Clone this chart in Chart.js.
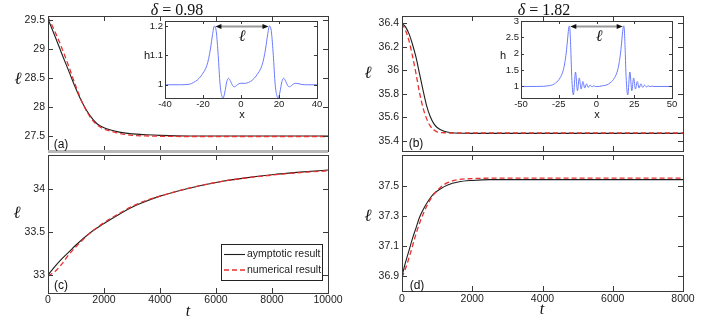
<!DOCTYPE html>
<html>
<head>
<meta charset="utf-8">
<script src="https://cdn.jsdelivr.net/npm/chart.js@4.4.1/dist/chart.umd.min.js"></script>
<style>
  html, body { margin: 0; padding: 0; background: #fff; }
  #fig { position: relative; width: 706px; height: 320px; overflow: hidden; }
  #fig canvas { position: absolute; left: 0; top: 0; }
  .lbl { position: absolute; transform: translate(-50%, -50%); line-height: 1; white-space: nowrap; color: #111; }
  .sans { font-family: "Liberation Sans", Arial, sans-serif; }
  .serif { font-family: "Liberation Serif", "Times New Roman", serif; }
  .ell { font-family: "DejaVu Serif", serif; font-style: italic; }
</style>
</head>
<body>
<div id="fig">
  <canvas id="chartA" width="706" height="320"></canvas>
  <canvas id="chartC" width="706" height="320"></canvas>
  <canvas id="chartB" width="706" height="320"></canvas>
  <canvas id="chartD" width="706" height="320"></canvas>
  <canvas id="insetA" width="706" height="320"></canvas>
  <canvas id="insetB" width="706" height="320"></canvas>

  <div class="lbl serif" style="left:177px; top:10px; font-size:16px"><i>δ</i> = 0.98</div>
  <div class="lbl serif" style="left:544px; top:10px; font-size:16px"><i>δ</i> = 1.82</div>

  <div class="lbl ell" style="left:18px; top:78px; font-size:17px">ℓ</div>
  <div class="lbl ell" style="left:17px; top:212px; font-size:17px">ℓ</div>
  <div class="lbl ell" style="left:368px; top:72px; font-size:17px">ℓ</div>
  <div class="lbl ell" style="left:368px; top:215px; font-size:17px">ℓ</div>

  <div class="lbl serif" style="left:188px; top:311px; font-size:16px"><i>t</i></div>
  <div class="lbl serif" style="left:542px; top:309px; font-size:16px"><i>t</i></div>

  <div class="lbl sans" style="left:61px; top:144px; font-size:12px">(a)</div>
  <div class="lbl sans" style="left:416px; top:143px; font-size:12px">(b)</div>
  <div class="lbl sans" style="left:61px; top:285px; font-size:12px">(c)</div>
  <div class="lbl sans" style="left:417px; top:285px; font-size:12px">(d)</div>

  <div class="lbl sans" style="left:147px; top:55px; font-size:11px">h</div>
  <div class="lbl sans" style="left:503px; top:55px; font-size:11px">h</div>
  <div class="lbl sans" style="left:242px; top:114px; font-size:11px">x</div>
  <div class="lbl sans" style="left:597px; top:114px; font-size:11px">x</div>

  <div class="lbl ell" style="left:242px; top:36px; font-size:16px">ℓ</div>
  <div class="lbl ell" style="left:599px; top:36px; font-size:16px">ℓ</div>
</div>

<script>
// ===== Data: panel (a), delta = 0.98 =====
const tA = [0, 250, 500, 750, 1000, 1250, 1500, 1750, 2000, 2500, 3000, 3500, 4000, 5000, 6000, 8000, 10000];
const asymA = [29.52, 29.22, 28.91, 28.61, 28.31, 28.05, 27.85, 27.71, 27.64, 27.57, 27.535, 27.52, 27.51, 27.5, 27.5, 27.5, 27.5];
const numA = [29.55, 29.3, 29.01, 28.69, 28.35, 28.05, 27.83, 27.69, 27.62, 27.55, 27.51, 27.5, 27.495, 27.49, 27.49, 27.49, 27.49];

// ===== Data: panel (c), delta = 0.98 =====
const tC = [0, 250, 500, 750, 1000, 1500, 2000, 2500, 3000, 3500, 4000, 5000, 6000, 7000, 8000, 9000, 10000];
const asymC = [33.0, 33.1, 33.19, 33.27, 33.35, 33.49, 33.6, 33.7, 33.79, 33.86, 33.92, 34.01, 34.08, 34.13, 34.17, 34.2, 34.225];
const numC = [32.99, 33.04, 33.13, 33.24, 33.33, 33.49, 33.61, 33.71, 33.8, 33.87, 33.92, 34.01, 34.08, 34.13, 34.165, 34.195, 34.215];

// ===== Data: panel (b), delta = 1.82 =====
const tB = [0, 100, 200, 300, 400, 500, 600, 700, 800, 900, 1000, 1200, 1400, 1700, 2000, 3000, 4000, 6000, 8000];
const asymB = [36.4, 36.37, 36.31, 36.22, 36.11, 35.97, 35.83, 35.7, 35.61, 35.55, 35.515, 35.483, 35.47, 35.466, 35.465, 35.465, 35.465, 35.465, 35.465];
const numB = [36.4, 36.34, 36.25, 36.12, 35.97, 35.81, 35.68, 35.59, 35.53, 35.495, 35.478, 35.47, 35.468, 35.468, 35.468, 35.468, 35.468, 35.468, 35.468];

// ===== Data: panel (d), delta = 1.82 =====
const tD = [0, 100, 200, 300, 400, 500, 600, 750, 900, 1100, 1300, 1600, 2000, 2500, 3000, 4000, 6000, 8000];
const asymD = [36.9, 36.99, 37.07, 37.15, 37.22, 37.29, 37.34, 37.4, 37.445, 37.48, 37.505, 37.525, 37.535, 37.54, 37.54, 37.54, 37.54, 37.54];
const numD = [36.89, 36.95, 37.02, 37.1, 37.18, 37.25, 37.31, 37.385, 37.44, 37.49, 37.52, 37.54, 37.547, 37.55, 37.55, 37.55, 37.55, 37.55];

// ===== Data: inset profiles h(x) =====
const xInsetA = [-40, -32, -27, -25, -23, -21, -20, -19, -18, -17, -16, -15, -14, -13, -12, -11, -10, -9.4, -8.5, -7.5, -6.6, -5.5, -4.5, -3.5, -2.5, -1, 0, 2, 4, 6, 8, 9, 10, 11, 12, 13, 14, 15, 16, 17, 18, 19, 19.6, 20.5, 21.5, 22.4, 23.5, 24.5, 25.5, 26.5, 28, 29, 30, 32, 35, 40];
const hInsetA = [1.0, 1.0, 1.002, 1.008, 1.016, 1.03, 1.04, 1.05, 1.065, 1.09, 1.125, 1.17, 1.2, 1.18, 1.1, 1.0, 0.96, 0.955, 0.975, 1.01, 1.022, 1.012, 0.998, 0.993, 0.997, 1.004, 1.005, 1.005, 1.008, 1.016, 1.03, 1.04, 1.05, 1.065, 1.09, 1.125, 1.17, 1.2, 1.18, 1.1, 1.0, 0.96, 0.955, 0.975, 1.01, 1.022, 1.012, 0.998, 0.993, 0.997, 1.004, 1.005, 1.004, 1.001, 1.0, 1.0];

const xInsetB = [-50, -40, -35, -32, -29, -27, -25.5, -24, -23, -22, -21, -20, -19.2, -18.5, -18, -17.6, -17, -16.4, -15.3, -13.9, -12.6, -11.4, -10.2, -9, -7.8, -6.6, -5.4, -4.2, -3, -1.8, -0.6, 2, 4, 7, 9, 10.5, 12, 13, 14, 15, 16, 16.8, 17.5, 18, 18.4, 19, 19.6, 20.7, 22.1, 23.4, 24.6, 25.8, 27, 28.2, 29.4, 30.6, 31.8, 33, 34.2, 35.4, 36.6, 38, 50];
const hInsetB = [1.0, 1.0, 1.005, 1.02, 1.05, 1.11, 1.17, 1.27, 1.36, 1.5, 1.72, 2.05, 2.42, 2.75, 2.85, 2.75, 2.1, 1.3, 0.74, 1.44, 0.87, 1.26, 0.92, 1.15, 0.95, 1.08, 0.97, 1.04, 0.985, 1.02, 0.995, 1.003, 1.02, 1.05, 1.11, 1.17, 1.27, 1.36, 1.5, 1.72, 2.05, 2.42, 2.75, 2.85, 2.75, 2.1, 1.3, 0.74, 1.44, 0.87, 1.26, 0.92, 1.15, 0.95, 1.08, 0.97, 1.04, 0.985, 1.02, 0.995, 1.008, 1.0, 1.0];

// ===== Ticks =====
const ticksT10k = [0, 2000, 4000, 6000, 8000, 10000];
const ticksT8k = [0, 2000, 4000, 6000, 8000];
const ticksA = [27.5, 28, 28.5, 29, 29.5];
const ticksC = [33, 33.5, 34];
const ticksB = [35.4, 35.6, 35.8, 36, 36.2, 36.4];
const ticksD = [36.9, 37.1, 37.3, 37.5];
const ticksInsetAX = [-40, -20, 0, 20, 40];
const ticksInsetAH = [1, 1.1, 1.2];
const ticksInsetBX = [-50, -25, 0, 25, 50];
const ticksInsetBH = [1, 1.5, 2, 2.5, 3];

// peak positions used for the double arrow in each inset
const peaksInsetA = [-14, 15];
const peaksInsetB = [-18, 18];

// ===== Styles =====
const W = 706, H = 320;
const BLACK = '#1e1e1e';
const RED = '#e8302f';
const BLUE = '#6a7bff';
const FRAME = '#3a3a3a';
const FONT = 'Liberation Sans';

function pts(xs, ys) {
  return xs.map((x, i) => ({ x, y: ys[i] }));
}

function asymSet(xs, ys) {
  return { label: 'aymptotic result', data: pts(xs, ys), borderColor: BLACK, borderWidth: 1.1,
    pointRadius: 0, fill: false, cubicInterpolationMode: 'monotone' };
}

function numSet(xs, ys) {
  return { label: 'numerical result', data: pts(xs, ys), borderColor: RED, borderWidth: 1.3,
    borderDash: [5, 3], pointRadius: 0, fill: false, cubicInterpolationMode: 'monotone' };
}

function profileSet(xs, ys) {
  return { label: 'h', data: pts(xs, ys), borderColor: BLUE, borderWidth: 1,
    pointRadius: 0, fill: false, cubicInterpolationMode: 'monotone' };
}

// ===== Plugins =====
// box with inward ticks on all four sides (MATLAB "box on" look)
const framePlugin = {
  id: 'frame',
  afterDatasetsDraw(chart, args, opts) {
    const { ctx, chartArea: a } = chart;
    const sx = chart.scales.x, sy = chart.scales.y;
    const L = opts.tick;
    ctx.save();
    ctx.strokeStyle = FRAME;
    ctx.lineWidth = 1;
    ctx.beginPath();
    opts.xTicks.forEach(v => {
      const px = Math.round(sx.getPixelForValue(v)) + 0.5;
      ctx.moveTo(px, a.bottom); ctx.lineTo(px, a.bottom - L);
      ctx.moveTo(px, a.top); ctx.lineTo(px, a.top + L);
    });
    opts.yTicks.forEach(v => {
      const py = Math.round(sy.getPixelForValue(v)) + 0.5;
      ctx.moveTo(a.left, py); ctx.lineTo(a.left + L, py);
      ctx.moveTo(a.right, py); ctx.lineTo(a.right - L, py);
    });
    ctx.stroke();
    ctx.strokeRect(Math.round(a.left) + 0.5, Math.round(a.top) + 0.5, Math.round(a.width), Math.round(a.height));
    if (opts.band) {
      ctx.fillStyle = '#b9b9b9';
      ctx.fillRect(a.left, a.bottom - 1, a.width, 3);
    }
    ctx.restore();
  }
};

// legend box drawn inside panel (c)
const legendBoxPlugin = {
  id: 'legendBox',
  afterDraw(chart, args, opts) {
    if (!opts.box) return;
    const { ctx } = chart;
    const b = opts.box;
    ctx.save();
    ctx.fillStyle = '#fff';
    ctx.fillRect(b.x, b.y, b.w, b.h);
    ctx.strokeStyle = '#222';
    ctx.lineWidth = 1;
    ctx.strokeRect(b.x + 0.5, b.y + 0.5, b.w, b.h);
    ctx.font = '10.5px "' + FONT + '"';
    ctx.textBaseline = 'middle';
    ctx.fillStyle = '#222';
    const order = [1, 0]; // black line listed first
    order.forEach((dsIndex, row) => {
      const ds = chart.data.datasets[dsIndex];
      const y = b.y + 10.5 + row * 15.5;
      ctx.strokeStyle = ds.borderColor;
      ctx.lineWidth = ds.borderWidth;
      ctx.setLineDash(ds.borderDash || []);
      ctx.beginPath();
      ctx.moveTo(b.x + 3, y); ctx.lineTo(b.x + 24, y);
      ctx.stroke();
      ctx.setLineDash([]);
      ctx.fillText(ds.label, b.x + 26, y);
    });
    ctx.restore();
  }
};

// double arrow between the two peaks of an inset profile
const arrowPlugin = {
  id: 'peakArrow',
  afterDatasetsDraw(chart, args, opts) {
    if (!opts.peaks) return;
    const { ctx } = chart;
    const x1 = chart.scales.x.getPixelForValue(opts.peaks[0]) + 1;
    const x2 = chart.scales.x.getPixelForValue(opts.peaks[1]) - 1;
    const y = Math.round(chart.scales.y.getPixelForValue(opts.level)) + 0.5;
    ctx.save();
    ctx.strokeStyle = '#9a9a9a';
    ctx.lineWidth = 2;
    ctx.beginPath();
    ctx.moveTo(x1 + 4, y); ctx.lineTo(x2 - 4, y);
    ctx.stroke();
    ctx.fillStyle = '#111';
    ctx.beginPath();
    ctx.moveTo(x1, y); ctx.lineTo(x1 + 6, y - 2.5); ctx.lineTo(x1 + 6, y + 2.5); ctx.closePath();
    ctx.moveTo(x2, y); ctx.lineTo(x2 - 6, y - 2.5); ctx.lineTo(x2 - 6, y + 2.5); ctx.closePath();
    ctx.fill();
    ctx.restore();
  }
};

// ===== Panel builder =====
// area: chart area in page pixels; the canvas covers the full figure
function makePanel(id, area, cfg) {
  const yw = cfg.yAxisWidth;
  const xh = cfg.showX ? cfg.xAxisHeight : 0;
  const tickFont = { family: FONT, size: cfg.fontSize };
  return new Chart(document.getElementById(id), {
    type: 'line',
    data: { datasets: cfg.datasets },
    options: {
      responsive: false,
      animation: false,
      devicePixelRatio: 1,
      layout: { padding: { left: area.left - yw, top: area.top, right: W - area.right, bottom: H - area.bottom - xh } },
      scales: {
        x: {
          type: 'linear', min: cfg.xRange[0], max: cfg.xRange[1], display: cfg.showX,
          afterFit: s => { s.height = xh; },
          afterBuildTicks: s => { s.ticks = cfg.xTicks.map(v => ({ value: v })); },
          grid: { display: false, drawTicks: false }, border: { display: false },
          ticks: { padding: cfg.xPad, font: tickFont, color: '#222', maxRotation: 0, autoSkip: false,
            callback: v => String(v) }
        },
        y: {
          type: 'linear', min: cfg.yRange[0], max: cfg.yRange[1],
          afterFit: s => { s.width = yw; },
          afterBuildTicks: s => { s.ticks = cfg.yTicks.map(v => ({ value: v })); },
          grid: { display: false, drawTicks: false }, border: { display: false },
          ticks: { padding: cfg.yPad, font: tickFont, color: '#222', autoSkip: false,
            callback: v => String(v) }
        }
      },
      plugins: {
        legend: { display: false },
        tooltip: { enabled: false },
        frame: { xTicks: cfg.xTicks, yTicks: cfg.yTicks, tick: cfg.tickLen, band: !!cfg.band },
        legendBox: { box: cfg.legendBox || null },
        peakArrow: cfg.arrow || {}
      }
    },
    plugins: [framePlugin, legendBoxPlugin, arrowPlugin]
  });
}

// ===== Main panels =====
makePanel('chartA', { left: 48, top: 16, right: 328, bottom: 151 }, {
  datasets: [numSet(tA, numA), asymSet(tA, asymA)],
  xRange: [0, 10000], yRange: [27.24, 29.57], xTicks: ticksT10k, yTicks: ticksA,
  showX: false, yAxisWidth: 48, fontSize: 10.5, xPad: 1, yPad: 3, tickLen: 5, band: true
});

makePanel('chartC', { left: 48, top: 155, right: 328, bottom: 293 }, {
  datasets: [numSet(tC, numC), asymSet(tC, asymC)],
  xRange: [0, 10000], yRange: [32.79, 34.4], xTicks: ticksT10k, yTicks: ticksC,
  showX: true, xAxisHeight: 22, yAxisWidth: 48, fontSize: 10.5, xPad: 1, yPad: 3, tickLen: 5,
  legendBox: { x: 221, y: 244, w: 101, h: 36 }
});

makePanel('chartB', { left: 402, top: 16, right: 683, bottom: 151 }, {
  datasets: [numSet(tB, numB), asymSet(tB, asymB)],
  xRange: [0, 8000], yRange: [35.315, 36.462], xTicks: ticksT8k, yTicks: ticksB,
  showX: false, yAxisWidth: 48, fontSize: 10.5, xPad: 1, yPad: 3, tickLen: 5
});

makePanel('chartD', { left: 402, top: 155, right: 683, bottom: 291 }, {
  datasets: [numSet(tD, numD), asymSet(tD, asymD)],
  xRange: [0, 8000], yRange: [36.8, 37.704], xTicks: ticksT8k, yTicks: ticksD,
  showX: true, xAxisHeight: 22, yAxisWidth: 48, fontSize: 10.5, xPad: 2, yPad: 3, tickLen: 5
});

// ===== Insets =====
makePanel('insetA', { left: 165, top: 21, right: 317, bottom: 98 }, {
  datasets: [profileSet(xInsetA, hInsetA)],
  xRange: [-40, 40], yRange: [0.955, 1.217], xTicks: ticksInsetAX, yTicks: ticksInsetAH,
  showX: true, xAxisHeight: 18, yAxisWidth: 24, fontSize: 9.5, xPad: 1, yPad: 2, tickLen: 3,
  arrow: { peaks: peaksInsetA, level: 1.2 }
});

makePanel('insetB', { left: 521, top: 21, right: 672, bottom: 98 }, {
  datasets: [profileSet(xInsetB, hInsetB)],
  xRange: [-50, 50], yRange: [0.647, 3.0], xTicks: ticksInsetBX, yTicks: ticksInsetBH,
  showX: true, xAxisHeight: 18, yAxisWidth: 24, fontSize: 9.5, xPad: 1, yPad: 2, tickLen: 3,
  arrow: { peaks: peaksInsetB, level: 2.85 }
});
</script>
</body>
</html>
